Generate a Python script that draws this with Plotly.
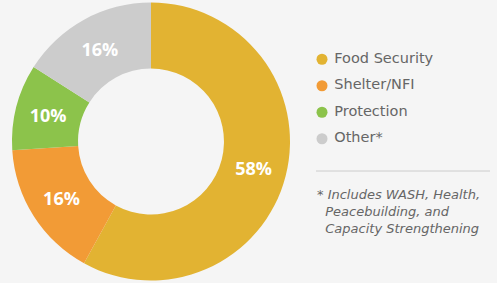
import plotly.graph_objects as go

categories = ["Food Security", "Shelter/NFI", "Protection", "Other*"]
values = [58, 16, 10, 16]
colors = ["#E2B332", "#F29B36", "#8CC34B", "#CCCCCC"]
footnote = "* Includes WASH, Health,<br>  Peacebuilding, and<br>  Capacity Strengthening"

W, H = 497, 283
fig = go.Figure()

fig.add_trace(go.Pie(
    labels=categories, values=values, sort=False, direction="clockwise", rotation=0,
    hole=0.525, marker=dict(colors=colors, line=dict(width=0)),
    texttemplate="%{percent:.0%}", textposition="inside", insidetextorientation="horizontal",
    textfont=dict(family="Open Sans", size=18, color="white", weight="bold"),
    domain=dict(x=[12 / W, 290 / W], y=[2 / H, 281 / H]),
    showlegend=False, hoverinfo="skip",
))

# legend drawn as scatter traces on their own axes
n = len(categories)
fig.add_trace(go.Scatter(
    x=[0] * n, y=list(range(n)), mode="markers",
    marker=dict(color=colors, size=11),
    showlegend=False, hoverinfo="skip", cliponaxis=False,
))
fig.add_trace(go.Scatter(
    x=[0.07] * n, y=list(range(n)), mode="text", text=categories, textposition="middle right",
    textfont=dict(family="DejaVu Sans", size=14.5, color="#666666"),
    showlegend=False, hoverinfo="skip", cliponaxis=False,
))

fig.update_layout(
    width=W, height=H, margin=dict(l=0, r=0, t=0, b=0),
    paper_bgcolor="#F5F5F5", plot_bgcolor="rgba(0,0,0,0)",
    xaxis=dict(domain=[322 / W, 1], range=[0, 1], visible=False, fixedrange=True),
    yaxis=dict(domain=[(H - 152) / H, (H - 46) / H], range=[3.5, -0.5], visible=False, fixedrange=True),
    shapes=[dict(type="line", xref="paper", yref="paper", x0=316 / W, x1=490 / W,
                 y0=(H - 171) / H, y1=(H - 171) / H, line=dict(color="#CCCCCC", width=1))],
    annotations=[dict(text="<i>" + footnote + "</i>", xref="paper", yref="paper",
                      x=315 / W, y=(H - 185) / H, xanchor="left", yanchor="top", align="left",
                      showarrow=False, font=dict(family="DejaVu Sans", size=13, color="#666666"))],
)

fig.write_html("out.html", config={"displayModeBar": False},
               post_script="document.body.style.margin='0';")
